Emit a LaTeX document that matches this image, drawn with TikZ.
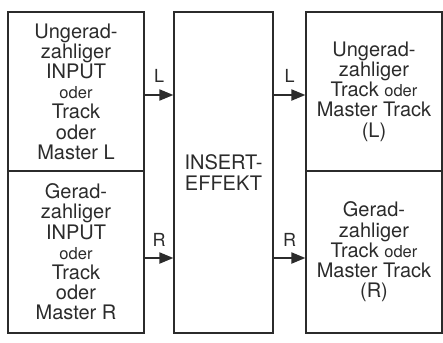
\documentclass[tikz,border=0pt]{standalone}
\usepackage{fontspec}
\setmainfont{TeX Gyre Heros}
\usetikzlibrary{arrows.meta}
\definecolor{ink}{HTML}{2B2B2B}
\newcommand{\sm}[1]{{\fontsize{16.5}{17}\selectfont #1}}
\begin{document}
\begin{tikzpicture}[x=1pt,y=-1pt,
  box/.style={draw=ink, line width=1.3pt, text=ink, inner sep=0pt, outer sep=0pt,
    align=center, font=\fontsize{20}{20.2}\selectfont},
  arr/.style={draw=ink, line width=2pt, -{Triangle[length=14pt,width=11pt]}, shorten >=0.6pt},
  lbl/.style={text=ink, inner sep=0pt, font=\fontsize{18}{18}\selectfont}]
\useasboundingbox (0,0) rectangle (443,342);
\node[box, minimum width=136pt, minimum height=159pt] (lt) at (76,91.5)
  {Ungerad-\\zahliger\\INPUT\\\sm{oder}\\Track\\oder\\Master L};
\node[box, minimum width=136pt, minimum height=162pt] (lb) at (76,252)
  {Gerad-\\zahliger\\INPUT\\\sm{oder}\\Track\\oder\\Master R};
\node[box, minimum width=99pt, minimum height=321pt, font=\fontsize{20}{21}\selectfont] (mid) at (223.5,172.5)
  {INSERT-\\EFFEKT};
\node[box, minimum width=136pt, minimum height=159pt] (rt) at (374,91.5)
  {Ungerad-\\zahliger\\Track \sm{oder}\\Master Track\\(L)};
\node[box, minimum width=136pt, minimum height=162pt] (rb) at (374,252)
  {Gerad-\\zahliger\\Track \sm{oder}\\Master Track\\(R)};
\coordinate (yL) at (0,95);
\coordinate (yR) at (0,258);
\draw[arr] (lt.east |- yL) -- node[lbl, midway, above=12pt] {L} (mid.west |- yL);
\draw[arr] (lb.east |- yR) -- node[lbl, midway, above=11pt] {R} (mid.west |- yR);
\draw[arr] (mid.east |- yL) -- node[lbl, midway, above=12pt] {L} (rt.west |- yL);
\draw[arr] (mid.east |- yR) -- node[lbl, midway, above=11pt] {R} (rb.west |- yR);
\end{tikzpicture}
\end{document}
